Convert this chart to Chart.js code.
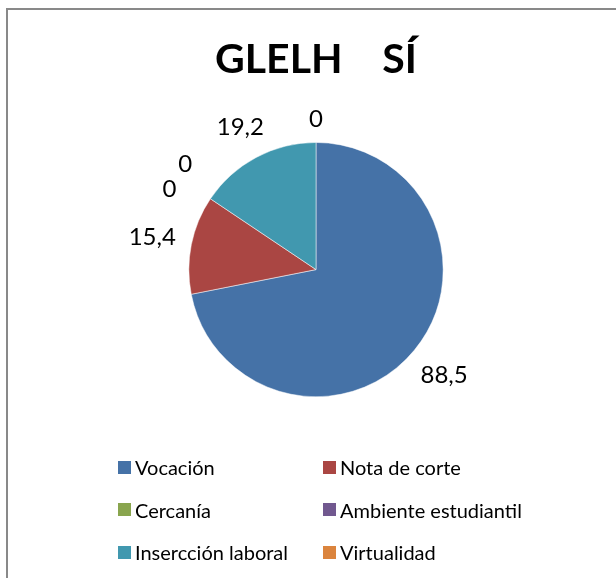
<!DOCTYPE html>
<html>
<head>
<meta charset="utf-8">
<script src="https://cdn.jsdelivr.net/npm/chart.js@4.4.0/dist/chart.umd.min.js"></script>
<style>
    html, body { margin: 0; padding: 0; background: #fff; }
    body { width: 616px; height: 578px; position: relative; overflow: hidden; font-family: Lato, "Noto Sans", sans-serif; }
    .frame { position: absolute; left: 6px; top: 8px; width: 700px; height: 700px; border: 2px solid #898989; }
    .wrap { position: absolute; left: 0; top: 0; width: 616px; height: 578px; }
    .legend { position: absolute; left: 118px; top: 446px; display: grid; grid-template-columns: 205px auto; grid-auto-rows: 42.5px; }
    .legend-item { display: flex; align-items: center; font-size: 20px; color: #000; white-space: nowrap; }
    .legend-box { width: 13px; height: 13px; margin-right: 4px; display: inline-block; }
</style>
</head>
<body>
<div class="frame"></div>
<div class="wrap"><canvas id="pie"></canvas></div>
<div class="legend" id="legend"></div>
<script>
// Chart data
const chartTitle = 'GLELH    SÍ';
const categories = ['Vocación', 'Nota de corte', 'Cercanía', 'Ambiente estudiantil', 'Insercción laboral', 'Virtualidad'];
const values = [88.5, 15.4, 0, 0, 19.2, 0];
const colors = ['#4572A7', '#AA4643', '#89A54E', '#71588F', '#4198AF', '#DB843D'];

function formatValue(v) {
    return Number.isInteger(v) ? String(v) : v.toFixed(1).replace('.', ',');
}

// Value labels outside the slices; labels sharing an angle get fanned out
const sliceLabels = {
    id: 'sliceLabels',
    afterDatasetsDraw(chart) {
        const ctx = chart.ctx;
        const meta = chart.getDatasetMeta(0);
        const data = chart.data.datasets[0].data;
        const gap = 15;
        const textH = 17;
        const spread = 10 * Math.PI / 180;

        // group arcs by mid angle
        const groups = {};
        meta.data.forEach((arc, i) => {
            const p = arc.getProps(['startAngle', 'endAngle'], true);
            const mid = (p.startAngle + p.endAngle) / 2;
            const key = mid.toFixed(4);
            (groups[key] = groups[key] || []).push(i);
        });

        ctx.save();
        ctx.font = '24px Lato, "Noto Sans", sans-serif';
        ctx.fillStyle = '#000';
        ctx.textAlign = 'center';
        ctx.textBaseline = 'middle';
        Object.values(groups).forEach(idxs => {
            const n = idxs.length;
            idxs.forEach((i, k) => {
                const arc = meta.data[i];
                const p = arc.getProps(['x', 'y', 'startAngle', 'endAngle', 'outerRadius'], true);
                let a = (p.startAngle + p.endAngle) / 2;
                let extra = 0;
                if (n > 1) {
                    a += (k - (n - 1) / 2) * spread;
                    extra = 15;
                }
                const text = formatValue(data[i]);
                const w = ctx.measureText(text).width;
                const r = p.outerRadius + gap + extra + Math.abs(Math.cos(a)) * w / 2 + Math.abs(Math.sin(a)) * textH / 2;
                ctx.fillText(text, p.x + Math.cos(a) * r, p.y + Math.sin(a) * r);
            });
        });
        ctx.restore();
    }
};

const chart = new Chart(document.getElementById('pie').getContext('2d'), {
    type: 'pie',
    data: {
        labels: categories,
        datasets: [{
            data: values,
            backgroundColor: colors,
            borderColor: '#fff',
            borderWidth: 0.5,
            hoverOffset: 0
        }]
    },
    options: {
        responsive: true,
        maintainAspectRatio: false,
        animation: false,
        layout: {
            padding: { top: 0, bottom: 181, left: 16, right: 0 }
        },
        plugins: {
            legend: { display: false },
            tooltip: { enabled: false },
            title: {
                display: true,
                text: chartTitle,
                color: '#000',
                font: { family: 'Lato', size: 41, weight: 'bold', lineHeight: 1.2 },
                padding: { top: 35, bottom: 58 }
            }
        }
    },
    plugins: [sliceLabels]
});

// Two-column legend, built from the same arrays
const legendEl = document.getElementById('legend');
categories.forEach((name, i) => {
    const item = document.createElement('div');
    item.className = 'legend-item';
    item.innerHTML = `<span class="legend-box" style="background:${colors[i]}"></span><span>${name}</span>`;
    legendEl.appendChild(item);
});
</script>
</body>
</html>
